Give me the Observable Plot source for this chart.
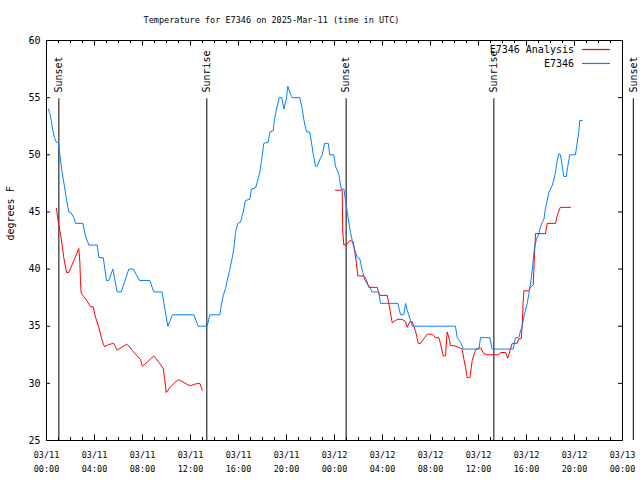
<!DOCTYPE html>
<html><head><meta charset="utf-8">
<script src="https://cdn.jsdelivr.net/npm/d3@7"></script>
<script src="https://cdn.jsdelivr.net/npm/@observablehq/plot@0.6"></script>
<style>body{margin:0;background:#fff}</style>
</head><body><div id="chart"></div>
<script>
const startUTC = "2025-03-11T00:00:00Z";
const endUTC = "2025-03-13T00:00:00Z";
const titleText = "Temperature for E7346 on 2025-Mar-11 (time in UTC)";
const yLabel = "degrees F";
const seriesNames = ["E7346 Analysis", "E7346"];
const yTicks = [25, 30, 35, 40, 45, 50, 55, 60];

// sunrise / sunset, hours after 03/11 00:00 UTC
const sunHours = [1.03, 13.36, 24.97, 37.28, 48.9];
const sunLabels = ["Sunset", "Sunrise", "Sunset", "Sunrise", "Sunset"];

// E7346 observations (hours after start, deg F)
const stationHours = [0.17,0.25,0.33,0.44,0.53,0.67,0.83,1.00,1.06,1.17,1.28,1.39,1.50,1.64,1.78,1.86,2.06,2.28,2.42,3.03,3.25,3.53,4.23,4.36,4.73,5.00,5.19,5.53,5.89,6.23,6.86,7.23,7.75,8.61,8.94,9.64,9.83,10.11,10.50,12.28,12.64,13.39,13.61,14.44,14.56,14.73,14.92,15.06,15.28,15.48,15.61,15.75,15.94,16.17,16.39,16.58,16.94,17.08,17.42,17.56,17.78,17.92,18.11,18.48,18.61,18.89,19.00,19.17,19.39,19.61,19.78,20.00,20.11,20.33,20.48,21.11,21.31,21.44,21.67,21.94,22.08,22.23,22.42,22.56,22.78,22.98,23.17,23.48,23.61,23.94,24.08,24.36,24.56,24.78,24.92,25.06,25.19,25.33,25.48,25.61,25.75,25.89,26.11,26.23,26.36,26.53,26.73,26.94,27.14,27.69,27.83,29.28,29.50,29.78,29.92,30.06,30.19,30.33,30.48,34.08,34.23,34.50,34.73,36.03,36.17,36.94,37.14,38.89,39.08,39.36,39.50,39.64,39.78,39.92,40.06,40.19,40.33,40.48,40.56,40.67,40.83,41.03,41.17,41.31,41.44,41.58,41.73,41.86,42.00,42.14,42.28,42.42,42.56,42.69,42.83,42.98,43.11,43.31,43.44,43.61,44.08,44.23,44.36,44.44,44.64];
const stationTemp = [54.0,53.7,53.4,52.7,52.1,51.5,51.1,51.0,50.5,49.5,48.6,47.9,47.2,46.3,45.4,45.0,44.9,44.5,44.0,44.0,42.9,42.1,42.1,41.0,41.0,39.0,39.0,40.0,38.0,38.0,40.0,40.0,39.0,39.0,38.0,38.0,36.7,35.0,36.0,36.0,35.0,35.0,36.0,36.0,36.8,37.7,38.3,39.0,40.0,41.0,41.8,43.2,44.0,44.1,45.0,46.0,46.1,47.0,47.1,47.6,48.5,49.5,51.0,51.1,52.0,52.1,53.1,54.0,55.0,55.0,54.0,55.0,56.0,55.3,55.0,55.0,54.0,53.1,52.0,52.0,51.1,50.0,49.0,49.0,49.6,50.0,51.0,51.0,50.0,50.0,49.0,48.3,47.0,47.0,46.0,45.0,44.1,43.2,42.5,41.9,41.5,41.0,40.9,40.3,39.7,39.0,38.7,38.4,38.0,38.0,37.0,37.0,36.0,36.0,37.0,36.4,36.0,35.5,35.0,35.0,34.0,33.6,33.0,33.0,34.0,34.0,33.0,33.0,34.0,34.0,34.6,35.0,35.8,36.4,37.0,37.8,38.7,39.9,40.8,41.9,42.6,43.1,43.7,44.1,44.3,45.3,46.0,46.7,47.0,47.3,47.8,48.5,49.5,50.1,50.0,49.0,48.1,48.1,49.0,50.0,50.0,51.1,52.0,53.0,53.0];

// E7346 Analysis (null = gap in the series)
const analysisHours = [0.83,0.94,1.03,1.23,1.44,1.67,1.86,2.28,2.69,2.78,2.83,2.89,3.11,3.39,3.67,3.89,4.08,4.36,4.64,4.83,5.19,5.61,5.75,5.89,6.31,6.67,6.86,7.14,7.56,7.83,7.98,8.39,8.94,9.36,9.73,9.83,9.98,10.33,10.94,11.17,11.73,12.00,12.42,12.78,12.98,18.0,24.08,24.64,24.69,24.78,25.06,25.28,25.56,25.69,25.83,25.94,26.44,26.64,26.86,27.56,27.75,28.39,28.58,28.81,29.23,29.64,29.92,30.06,30.28,30.48,30.61,30.75,30.98,31.17,31.44,31.73,32.14,32.42,32.69,32.83,33.06,33.25,33.39,33.53,33.67,33.94,34.23,34.64,34.78,34.92,35.06,35.28,35.48,35.67,35.83,36.17,36.44,36.73,37.69,37.83,38.25,38.44,38.67,38.81,39.23,39.36,39.56,39.64,39.72,39.78,40.19,40.33,40.56,40.67,40.75,41.58,41.73,42.42,42.56,42.81,43.67];
const analysisTemp = [45.3,44.4,43.8,42.7,41.0,39.7,39.7,40.75,41.8,40.6,39.0,37.9,37.6,37.2,36.7,36.7,35.8,34.9,33.75,33.2,33.4,33.5,33.2,32.9,33.2,33.4,33.3,32.9,32.4,32.1,31.5,31.85,32.4,31.85,31.3,30.5,29.2,29.7,30.3,30.25,29.9,29.8,29.95,30.0,29.4,null,46.9,46.9,43.2,42.1,42.2,42.5,42.4,41.5,40.5,39.4,39.4,39.1,38.4,38.4,37.7,37.7,36.7,35.3,35.6,35.6,35.4,34.9,35.4,35.4,35.0,34.6,33.5,33.5,33.9,34.3,34.3,34.0,34.0,33.5,32.4,32.4,34.5,34.0,33.3,33.3,33.2,33.0,32.1,31.4,30.5,30.5,32.0,32.7,33.0,33.1,32.6,32.5,32.5,32.7,32.7,32.2,33.0,33.5,33.5,33.9,33.9,35.0,37.1,38.1,38.1,38.4,38.6,41.3,43.1,43.1,44.0,44.0,44.7,45.4,45.4];

const seriesColors = ["#ff0000", "#0080ff"];
const font = "DejaVu Sans Mono";

const t0 = new Date(startUTC), t1 = new Date(endUTC);
const toDate = h => new Date(+t0 + h * 3600e3);
const station = stationHours.map((h, i) => ({t: toDate(h), v: stationTemp[i]}));
const analysis = analysisHours.map((h, i) => ({t: toDate(h), v: analysisTemp[i]}));
const sun = sunHours.map((h, i) => ({t: toDate(h), label: sunLabels[i]}));
const hourTicks = d3.utcHour.range(t0, new Date(+t1 + 1));
const minorTicks = hourTicks.filter(d => d.getUTCHours() % 4 !== 0);
const majorTicks = hourTicks.filter(d => d.getUTCHours() % 4 === 0);
const yTickLen = 20 * 60e3; // in time units
const fmt = d3.utcFormat("%m/%d\n%H:%M");

const chart = Plot.plot({
  width: 640, height: 480,
  marginTop: 40, marginBottom: 40, marginLeft: 46, marginRight: 18,
  style: {fontFamily: font, fontSize: "10px", background: "white", color: "black"},
  x: {type: "utc", domain: [t0, t1]},
  y: {domain: [25, 60]},
  marks: [
    Plot.ruleX(sun, {x: "t", y1: 25, y2: 54.9, stroke: "black", strokeWidth: 1}),
    Plot.text(sun, {x: "t", y: 55.45, text: "label", rotate: -90, textAnchor: "start", lineAnchor: "middle", fontSize: 10, fill: "black"}),
    Plot.line(analysis, {x: "t", y: "v", stroke: seriesColors[0], strokeWidth: 1}),
    Plot.line(station, {x: "t", y: "v", stroke: seriesColors[1], strokeWidth: 1}),
    // ticks (inside, mirrored)
    Plot.ruleX(minorTicks, {x: d => d, y1: 25, y2: 25.27, stroke: "black"}),
    Plot.ruleX(minorTicks, {x: d => d, y1: 60, y2: 59.73, stroke: "black"}),
    Plot.ruleX(majorTicks, {x: d => d, y1: 25, y2: 25.5, stroke: "black"}),
    Plot.ruleX(majorTicks, {x: d => d, y1: 60, y2: 59.5, stroke: "black"}),
    Plot.ruleY(yTicks, {y: d => d, x1: t0, x2: new Date(+t0 + yTickLen), stroke: "black"}),
    Plot.ruleY(yTicks, {y: d => d, x1: t1, x2: new Date(+t1 - yTickLen), stroke: "black"}),
    Plot.frame({stroke: "black", strokeWidth: 1}),
    Plot.axisY({ticks: yTicks, tickSize: 0, tickPadding: 6, label: null, fontSize: 10}),
    Plot.axisX({ticks: majorTicks, tickSize: 0, tickPadding: 8, tickFormat: fmt, lineHeight: 1.65, label: null, fontSize: 8.5}),
    Plot.text([yLabel], {frameAnchor: "left", dx: -36, rotate: -90, fontSize: 10, lineAnchor: "middle", fill: "black"}),
    Plot.text([titleText], {frameAnchor: "top", dx: -63, dy: -20, fontSize: 8.5, lineAnchor: "middle", fill: "black"})
  ]
});

document.getElementById("chart").appendChild(chart);

// legend (top-right, inside the frame)
const lg = d3.select(chart).append("g").attr("font-family", font).attr("font-size", 10);
seriesNames.forEach((name, i) => {
  const y = 49.5 + 14 * i;
  lg.append("text").attr("x", 574).attr("y", y).attr("text-anchor", "end")
    .attr("dy", "0.35em").style("fill", "black").text(name);
  lg.append("path").attr("d", `M582,${y}H610`)
    .style("stroke", seriesColors[i]).style("stroke-width", "1.2px").style("fill", "none");
});
</script>
</body></html>
